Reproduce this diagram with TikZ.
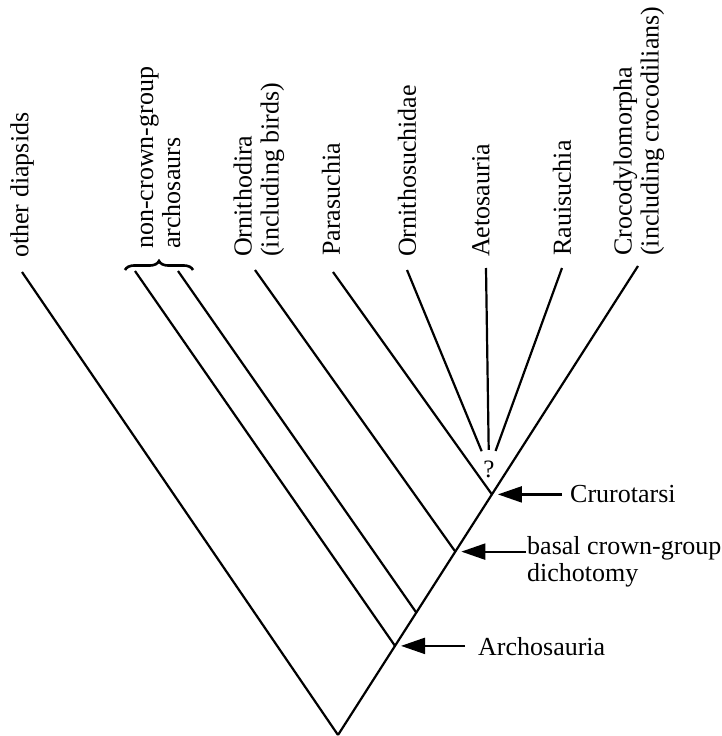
\documentclass[tikz,border=0pt]{standalone}
\usepackage{fontspec}
\setmainfont{Liberation Serif}
\usetikzlibrary{arrows.meta,calc,decorations.pathreplacing}
\begin{document}
\begin{tikzpicture}[x=1pt,y=-1pt,
    branch/.style={line width=2.2pt},
    taxon/.style={rotate=90,anchor=west,inner sep=0pt,align=left,font=\fontsize{26}{27}\selectfont},
    clade/.style={anchor=west,inner sep=0pt,align=left,font=\fontsize{26}{27}\selectfont},
    pointer/.style={line width=2.2pt,-{Triangle[length=24pt,width=16pt]},shorten >=6pt}]
    \useasboundingbox (0,0) rectangle (722,736);

    % taxa at the top
    \node[taxon] (OD) at (22,258) {other diapsids};
    \node[taxon] (NC) at (160,249) {non-crown-group\\archosaurs};
    \node[taxon] (OR) at (259,257) {Ornithodira\\(including birds)};
    \node[taxon] (PA) at (331,256) {Parasuchia};
    \node[taxon] (OS) at (407,257) {Ornithosuchidae};
    \node[taxon] (AE) at (481,257) {Aetosauria};
    \node[taxon] (RA) at (562,256) {Rauisuchia};
    \node[taxon] (CR) at (639,256) {Crocodylomorpha\\(including crocodilians)};
    \draw[branch,line width=2.6pt,decorate,decoration={brace,amplitude=9pt}] (125,270) -- (193,270);

    % tips and branch points
    \coordinate (root) at (338,735);
    \coordinate (tCR) at (638,266);
    \coordinate (tOD) at (22,272);
    \coordinate (tNCa) at (135,271);
    \coordinate (tNCb) at (178,271);
    \coordinate (tOR) at (255,270);
    \coordinate (tPA) at (333,272);
    \coordinate (tOS) at (407,270);
    \coordinate (tAE) at (486,268);
    \coordinate (tRA) at (562,268);
    \coordinate (archo) at ($(root)!0.19!(tCR)$);
    \coordinate (nca) at ($(root)!0.261!(tCR)$);
    \coordinate (crown) at ($(root)!0.391!(tCR)$);
    \coordinate (cruro) at ($(root)!0.513!(tCR)$);
    \node[circle,inner sep=0pt,minimum size=38pt,font=\fontsize{25}{26}\selectfont] (q) at (489,469) {?};

    \draw[branch] (root) -- (tCR);
    \draw[branch] (root) -- (tOD);
    \draw[branch] (archo) -- (tNCa);
    \draw[branch] (nca) -- (tNCb);
    \draw[branch] (crown) -- (tOR);
    \draw[branch] (cruro) -- (tPA);
    \draw[branch] (q) -- (tOS);
    \draw[branch] (q) -- (tAE);
    \draw[branch] (q) -- (tRA);

    % named clades
    \node[clade] (CRU) at (570,494) {Crurotarsi};
    \node[clade,anchor=north west] (BCG) at (527,536) {basal crown-group\\dichotomy};
    \node[clade] (ARC) at (478,647) {Archosauria};
    \draw[pointer,shorten <=8pt] (CRU.west |- cruro) -- (cruro);
    \draw[pointer,shorten <=1pt] (BCG.west |- crown) -- (crown);
    \draw[pointer,shorten <=13pt] (ARC.west |- archo) -- (archo);
\end{tikzpicture}
\end{document}
